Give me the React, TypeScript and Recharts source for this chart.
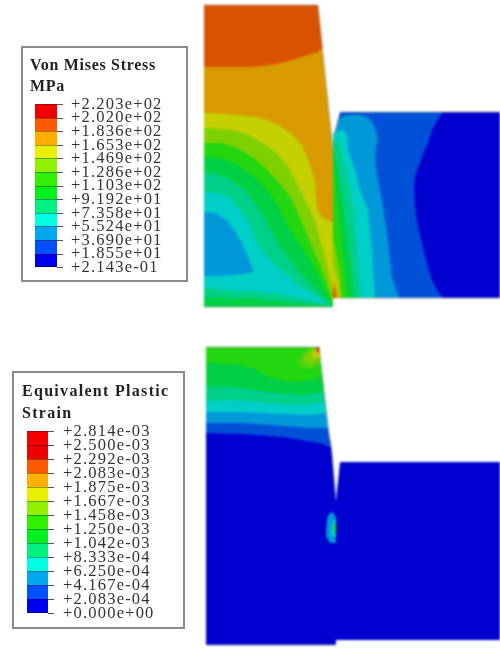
import React from "react";
import { ComposedChart, Area, XAxis, YAxis } from "recharts";

// ---- legend contents ----
const stressTitle = ["Von Mises Stress", "MPa"];
const stressTicks = ["+2.203e+02","+2.020e+02","+1.836e+02","+1.653e+02","+1.469e+02","+1.286e+02","+1.103e+02","+9.192e+01","+7.358e+01","+5.524e+01","+3.690e+01","+1.855e+01","+2.143e-01"];
const stressColors = ["#f00000","#ff5a00","#ffae00","#e8f000","#90f000","#30f000","#00f020","#00f080","#00ffe0","#00a8f0","#0050ff","#0000f0"];
const strainTitle = ["Equivalent Plastic", "Strain"];
const strainTicks = ["+2.814e-03","+2.500e-03","+2.292e-03","+2.083e-03","+1.875e-03","+1.667e-03","+1.458e-03","+1.250e-03","+1.042e-03","+8.333e-04","+6.250e-04","+4.167e-04","+2.083e-04","+0.000e+00"];
const strainColors = ["#f40000","#ec0000","#ff5a00","#ffb000","#e8f000","#90f000","#30f000","#00f020","#00f080","#00ffe0","#00a8f0","#0050ff","#0000f0"];

// ---- contour fill colours ----
const RED = "#c82000", ORED = "#d95200", ORANGE = "#d99a00", YELLOW = "#c4d000", LIME = "#7fd000",
  BRIGHT = "#22d610", GREEN = "#00d045", TEAL = "#00d08a", CYAN = "#00cfc8", BLUE = "#0098d8",
  MID = "#0050d8", DARK = "#0000d0";

// ---- contour bands, rows are [x, upper y, lower y] ----
const rightBase = [[333,140,298],[340,112,298],[500,112,298]];
const rightDark = [[414,187,187],[415,177,205],[418,168,227],[422,157,243],[428,143,267],[432,130,280],[437,121,290],[443,112,298],[500,112,298]];
const rightBlue = [[333,138,298],[338,120,298],[344,116,298],[350,115,298],[360,115,298],[367,117,298],[372,122,298],[375,128,298],[377,134,298],[377.5,140,298],[376,150,298],[375,160,298],[377,175,298],[380,190,298],[384,212,298],[387,233,298],[390,258,298],[392,277,298],[399,298,298]];
const rightCyan = [[333,133,298],[335,132,298],[340,130,298],[344,131,298],[347,135,298],[348,142,298],[348,150,298],[355,170,298],[360,190,298],[368,210,298],[372,250,298],[375,298,298]];
const rightTeal = [[333,139,298],[334,140,298],[340,143,298],[345,167,298],[350,190,298],[354,210,298],[357,255,298],[362,298,298]];
const rightGreen = [[333,147,298],[338,170,298],[344,207,298],[350,255,298],[355,298,298]];
const rightBright = [[333,160,298],[336,190,298],[338,207,298],[343,255,298],[348,298,298]];
const rightLime = [[333,240,298],[334,242,298],[340,272,298],[342,298,298]];
const rightYellow = [[333,265,298],[334,268,298],[338,282,298],[340,298,298]];
const rightOrange = [[333,279,298],[334,282,298],[337,288,298],[338,298,298]];
const rightRed = [[333,288,298],[335,291,298],[336,298,298]];

const leftBase = [[204,5,307],[318,5,307],[333,150,307]];
const leftRed = [[204,5,67],[230,5,67],[250,5,67],[270,5,65],[285,5,62],[305,5,56],[318,5,52],[322.5,48,48]];
const leftYellow = [[204,113,307],[225,114,307],[240,115,307],[255,117,307],[267,120,307],[280,126,307],[290,133,307],[298,141,307],[303,147,307],[308,160,307],[315,180,307],[316,195,307],[317,207,307],[319,213,307],[323,218,307],[333,223,307]];
const leftLime = [[204,128,307],[233,130,307],[246,134,307],[257,140,307],[276,152,307],[289,168,307],[301,192,307],[314,218,307],[323,250,307],[333,290,307]];
const leftBright = [[204,143,307],[221,143,307],[237,148,307],[254,158,307],[267,170,307],[281,185,307],[291,198,307],[305,230,307],[320,265,307],[333,301,307]];
const leftGreen = [[204,157,307],[221,158,307],[237,165,307],[254,177,307],[267,190,307],[277,205,307],[290,230,307],[310,260,307],[332,303,307]];
const leftTeal = [[204,173,297],[217,174,297],[234,182,298],[249,195,298],[259,210,299],[267,223,300],[280,247,301],[300,273,303],[331,306,306]];
const leftCyan = [[204,192,288],[217,193,289],[231,200,290],[242,213,291],[249,223,291],[257,243,292],[265,254,293],[277,267,294],[300,287,298],[331,305,305]];
const leftBlue = [[204,212,276],[216,213,276],[227,221,275],[233,228,275],[242,243,274],[250,262,273],[253,269,271],[253.5,272,272]];

const lowerBase = [[206,347,645],[319,347,645],[328,427,645],[331.7,450,645],[336,500,645],[336,500,640],[340,462,640],[500,462,640]];
const lowerMid = [[206,347,433],[240,347,434],[283,347,437],[319,347,443],[330.2,447,447]];
const lowerBlue = [[206,347,423],[240,347,423],[283,347,426],[310,347,428],[319,347,428],[328.5,428,428]];
const lowerCyan = [[206,347,412],[240,347,412],[283,347,414],[307,347,415],[319,347,414],[326.4,413,413]];
const lowerTeal = [[206,347,401],[233,347,400],[267,347,403],[300,347,405],[319,347,403],[325,402,402]];
const lowerGreen = [[206,347,387],[233,347,387],[267,347,392],[300,347,395],[319,347,393],[324,392,392]];
const lowerBright = [[206,347,363],[233,347,364],[253,347,368],[262,347,374],[270,347,378],[290,347,382],[310,347,380],[319,347,378],[322.4,377,377]];
const hotBright = [[297,362,362],[303,353,368],[312,347,368],[319,347,366],[321,365,365]];
const hotLime = [[303,360,360],[310,350,364],[316,347,362],[319,347,360],[320.5,360,360]];
const hotYellow = [[311,356,356],[316,349,358],[319,347,357],[320.3,356,356]];
const hotOrange = [[315,350,350],[317,347,354],[319,347,354],[320,354,354]];
const hotRed = [[316,347,347],[318,347,352],[319,347,352],[319.7,352,352]];
const spotBlue = [[326,535,535],[327,518,538],[330,513,543],[333,512,543],[336,518,543]];
const spotCyan = [[331,530,535],[333,522,537],[336,518,537]];
const spotGreen = [[334,527,531],[335,524,533],[336,522,534]];

const bands: [number[][], string][] = [
  [rightBase, MID],[rightDark, DARK],[rightBlue, BLUE],[rightCyan, CYAN],[rightTeal, TEAL],[rightGreen, GREEN],
  [rightBright, BRIGHT],[rightLime, LIME],[rightYellow, YELLOW],[rightOrange, ORANGE],[rightRed, ORED],
  [leftBase, ORANGE],[leftRed, ORED],[leftYellow, YELLOW],[leftLime, LIME],[leftBright, BRIGHT],[leftGreen, GREEN],
  [leftTeal, TEAL],[leftCyan, CYAN],[leftBlue, BLUE],
  [lowerBase, DARK],[lowerMid, MID],[lowerBlue, BLUE],[lowerCyan, CYAN],[lowerTeal, TEAL],[lowerGreen, GREEN],[lowerBright, BRIGHT],
  [hotBright, "#4fd410"],[hotLime, LIME],[hotYellow, YELLOW],[hotOrange, ORANGE],[hotRed, RED],
  [spotBlue, BLUE],[spotCyan, CYAN],[spotGreen, BRIGHT],
];

// outlines of the two tapered blocks, drawn over the fills
const outlines = [leftBase, lowerBase.slice(0, 5), rightBase];

const toRows = (rows: number[][]) => rows.map(([x, a, b]) => ({ x, range: [a, b] }));

type LegendProps = {
  box: number[]; title: string[]; titleX: number; titleY: number[]; titleSpacing: number;
  ticks: string[]; colors: string[]; swatch: number[]; labelX: number; step: number;
};

function Legend({ box, title, titleX, titleY, titleSpacing, ticks, colors, swatch, labelX, step }: LegendProps) {
  const abs = { position: "absolute" as const };
  return (
    <>
      <div style={{ ...abs, left: box[0], top: box[1], width: box[2], height: box[3], border: "2px solid #8a8a8a", background: "#fff", boxSizing: "border-box" }} />
      {title.map((t, i) => (
        <div key={t} style={{ ...abs, left: titleX, top: titleY[i], font: "bold 16px 'Liberation Serif'", letterSpacing: titleSpacing, color: "#222", whiteSpace: "nowrap", lineHeight: "18px", filter: "blur(0.35px)" }}>{t}</div>
      ))}
      {colors.map((c, i) => (
        <div key={i} style={{ ...abs, left: swatch[0], top: swatch[1] + i * step, width: swatch[2], height: step, background: c, boxSizing: "border-box", borderTop: "1px solid rgba(0,0,0,.35)", borderBottom: i === colors.length - 1 ? "1px solid rgba(0,0,0,.35)" : undefined }} />
      ))}
      {ticks.map((t, i) => (
        <React.Fragment key={t + i}>
          <div style={{ ...abs, left: swatch[0] + swatch[2], top: swatch[1] + i * step, width: 6, height: 1, background: "#555" }} />
          <div style={{ ...abs, left: labelX, top: swatch[1] + i * step - step / 2 - 0.5, font: "16.5px 'Liberation Serif'", letterSpacing: 1.2, color: "#333", whiteSpace: "nowrap", lineHeight: step + "px", height: step, filter: "blur(0.35px)" }}>{t}</div>
        </React.Fragment>
      ))}
    </>
  );
}

export default function App() {
  return (
    <div style={{ position: "absolute", left: 0, top: 0, width: 500, height: 648, background: "#fff", overflow: "hidden" }}>
      <div style={{ position: "absolute", left: 0, top: 0, filter: "blur(0.9px)" }}>
        <ComposedChart width={500} height={648} margin={{ top: 0, right: 0, bottom: 0, left: 0 }}>
          <XAxis type="number" dataKey="x" domain={[0, 500]} hide allowDataOverflow />
          <YAxis type="number" domain={[0, 648]} reversed hide allowDataOverflow />
          {bands.map(([rows, color], i) => (
            <Area key={i} data={toRows(rows)} dataKey="range" type="linear" fill={color} fillOpacity={1} stroke="none" dot={false} activeDot={false} isAnimationActive={false} />
          ))}
          {outlines.map((rows, i) => (
            <Area key={"o" + i} data={toRows(rows)} dataKey="range" type="linear" fill="none" stroke="#9a9a8c" strokeOpacity={0.7} strokeWidth={1} dot={false} activeDot={false} isAnimationActive={false} />
          ))}
        </ComposedChart>
      </div>
      <Legend box={[21, 46, 167, 236]} title={stressTitle} titleX={30} titleY={[56, 77]} titleSpacing={0.7}
        ticks={stressTicks} colors={stressColors} swatch={[35, 104, 22]} labelX={71} step={13.6} />
      <Legend box={[12, 371, 173, 258]} title={strainTitle} titleX={22} titleY={[382, 404]} titleSpacing={1.3}
        ticks={strainTicks} colors={strainColors} swatch={[27, 431, 21]} labelX={63} step={14} />
    </div>
  );
}
